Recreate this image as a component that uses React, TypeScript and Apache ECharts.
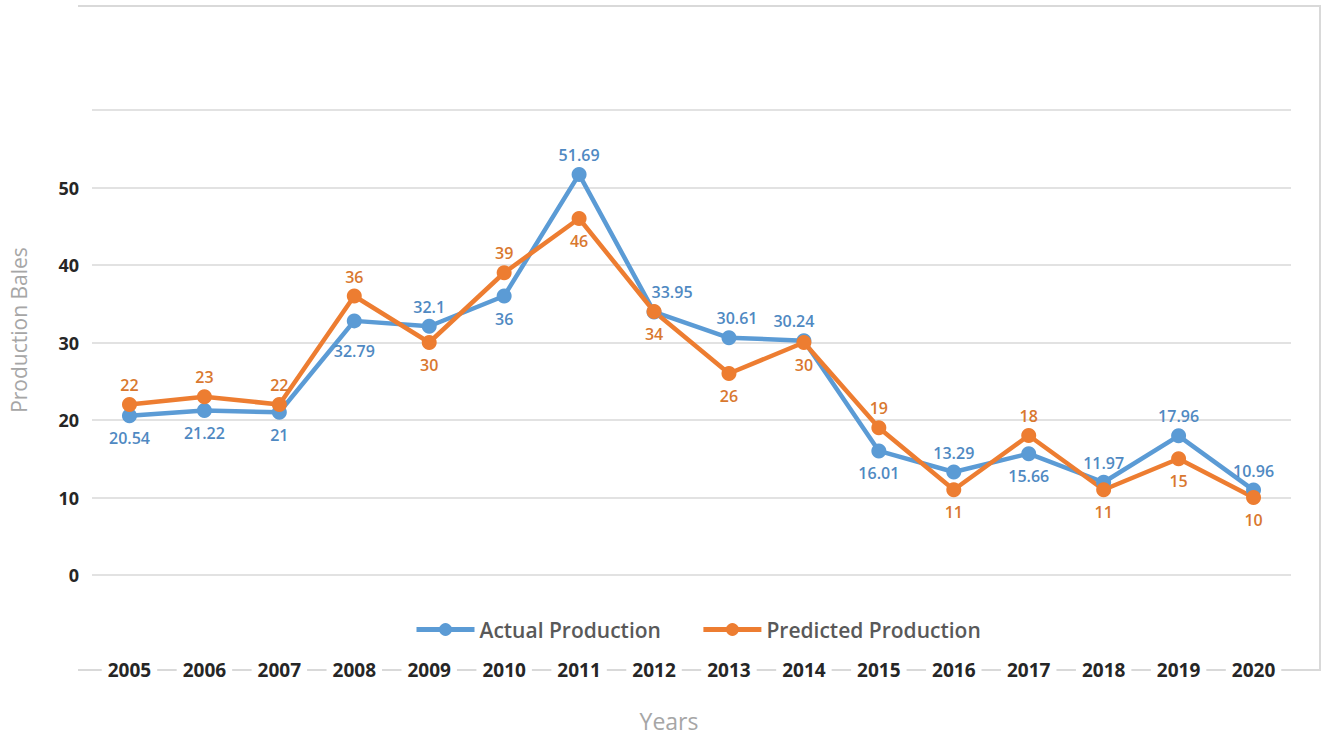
import React, { useEffect, useRef } from "react";
import * as echarts from "echarts";

// Cotton production: actual vs. predicted (bales), 2005–2020
const years = [
  "2005", "2006", "2007", "2008", "2009", "2010", "2011", "2012",
  "2013", "2014", "2015", "2016", "2017", "2018", "2019", "2020",
];
const actualProduction = [
  20.54, 21.22, 21, 32.79, 32.1, 36, 51.69, 33.95,
  30.61, 30.24, 16.01, 13.29, 15.66, 11.97, 17.96, 10.96,
];
const predictedProduction = [22, 23, 22, 36, 30, 39, 46, 34, 26, 30, 19, 11, 18, 11, 15, 10];
const yTickLabels = [0, 10, 20, 30, 40, 50];

// Which side of each point its value label sits on
const actualLabelSide = [
  "bottom", "bottom", "bottom", "bottom", "top", "bottom", "top", "top",
  "top", "top", "bottom", "top", "bottom", "top", "top", "top",
];
const predictedLabelSide = [
  "top", "top", "top", "top", "bottom", "top", "bottom", "bottom",
  "bottom", "bottom", "top", "bottom", "top", "bottom", "bottom", "bottom",
];
const actualLabelShift: Record<number, [number, number]> = {
  3: [0, 8],
  7: [18, 0],
  8: [8, 0],
  9: [-10, 0],
};

const FONT = "'Open Sans', 'Noto Sans', sans-serif";
const BLUE = "#5B9BD5";
const ORANGE = "#ED7D31";
const BLUE_TEXT = "#4F89C2";
const ORANGE_TEXT = "#D9782F";
const FRAME = "#d9d9d9";

function pointData(values: number[], sides: string[], color: string, shifts: Record<number, [number, number]> = {}) {
  return values.map((v, i) => ({
    value: v,
    label: {
      position: sides[i],
      distance: sides[i] === "top" ? 4 : 7,
      offset: shifts[i] || [0, 0],
      color,
    },
  }));
}

export default function App() {
  const ref = useRef<HTMLDivElement>(null);

  useEffect(() => {
    if (!ref.current) return;
    const chart = echarts.init(ref.current, undefined, { renderer: "svg" });

    const labelBase = {
      show: true,
      fontFamily: FONT,
      fontSize: 16,
      fontWeight: 600,
    };

    chart.setOption({
      animation: false,
      backgroundColor: "#ffffff",
      textStyle: { fontFamily: FONT },
      grid: { left: 92, right: 39, top: 110, bottom: 162 },
      legend: {
        left: 409,
        top: 614,
        itemWidth: 58,
        itemHeight: 16,
        itemGap: 40,
        textStyle: { fontFamily: FONT, fontSize: 21, fontWeight: 600, color: "#595959" },
        lineStyle: { width: 5 },
        data: ["Actual Production", "Predicted Production"],
      },
      xAxis: {
        type: "category",
        data: years,
        offset: 95,
        z: 5,
        axisLine: { show: false },
        axisTick: { show: false },
        splitLine: { show: false },
        axisLabel: {
          margin: 0,
          verticalAlign: "middle",
          fontFamily: FONT,
          fontSize: 19,
          fontWeight: 700,
          color: "#262626",
          backgroundColor: "#ffffff",
          padding: [0, 6],
          interval: 0,
        },
      },
      yAxis: {
        type: "value",
        min: 0,
        max: 60,
        interval: 10,
        axisLine: { show: false },
        axisTick: { show: false },
        splitLine: { lineStyle: { color: FRAME, width: 1.6 } },
        axisLabel: {
          margin: 13,
          fontFamily: FONT,
          fontSize: 18,
          fontWeight: 700,
          color: "#262626",
          formatter: (v: number) => (yTickLabels.includes(v) ? String(v) : ""),
        },
      },
      graphic: [
        {
          type: "polyline",
          z: -1,
          shape: { points: [[78, 6], [1320, 6], [1320, 670], [78, 670]] },
          style: { stroke: FRAME, lineWidth: 2, fill: null },
        },
        {
          type: "text",
          x: 19,
          y: 330,
          rotation: Math.PI / 2,
          style: {
            text: "Production Bales",
            font: `21px ${FONT}`,
            fill: "#a6a6a6",
            align: "center",
            verticalAlign: "middle",
          },
        },
        {
          type: "text",
          x: 669,
          y: 721,
          style: {
            text: "Years",
            font: `23px ${FONT}`,
            fill: "#a6a6a6",
            align: "center",
            verticalAlign: "middle",
          },
        },
      ],
      series: [
        {
          name: "Actual Production",
          type: "line",
          data: pointData(actualProduction, actualLabelSide, BLUE_TEXT, actualLabelShift),
          color: BLUE,
          symbol: "circle",
          symbolSize: 15,
          lineStyle: { width: 4.5, color: BLUE },
          itemStyle: { color: BLUE },
          label: labelBase,
        },
        {
          name: "Predicted Production",
          type: "line",
          data: pointData(predictedProduction, predictedLabelSide, ORANGE_TEXT),
          color: ORANGE,
          symbol: "circle",
          symbolSize: 15,
          lineStyle: { width: 4.5, color: ORANGE },
          itemStyle: { color: ORANGE },
          label: labelBase,
        },
      ],
    });

    return () => chart.dispose();
  }, []);

  return (
    <div
      ref={ref}
      style={{ position: "absolute", left: 0, top: 0, width: 1330, height: 737 }}
    />
  );
}
